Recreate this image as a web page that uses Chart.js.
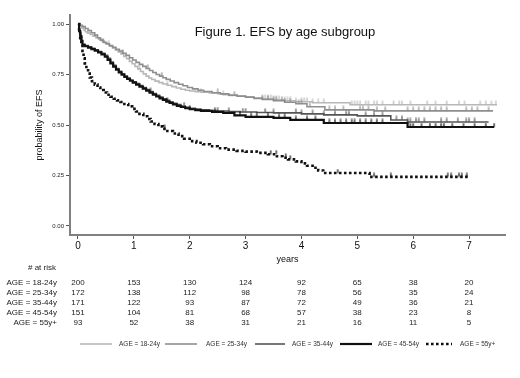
<!DOCTYPE html>
<html><head><meta charset="utf-8">
<script src="https://cdn.jsdelivr.net/npm/chart.js@4.4.1/dist/chart.umd.min.js"></script>
<style>html,body{margin:0;padding:0;background:#fff}#wrap{width:520px;height:378px}</style>
</head><body><div id="wrap"><canvas id="c" width="520" height="378"></canvas></div>
<script>
// ---- data ----
const groups = ["AGE = 18-24y","AGE = 25-34y","AGE = 35-44y","AGE = 45-54y","AGE = 55y+"];
const xTickValues = [0,1,2,3,4,5,6,7];
const yTickValues = [0,0.25,0.5,0.75,1];
const riskTimes = [0,1,2,3,4,5,6,7];
const risk18 = [200,153,130,124,92,65,38,20];
const risk25 = [172,138,112,98,78,56,35,24];
const risk35 = [171,122,93,87,72,49,36,21];
const risk45 = [151,104,81,68,57,38,23,8];
const risk55 = [93,52,38,31,21,16,11,5];

// step curves: event times and survival after each step
const t18 = [0,0.03,0.06,0.1,0.13,0.17,0.22,0.27,0.32,0.37,0.42,0.47,0.52,0.57,0.62,0.67,0.72,0.77,0.82,0.87,0.92,0.97,1.02,1.07,1.12,1.17,1.22,1.27,1.32,1.38,1.45,1.52,1.6,1.68,1.76,1.84,1.92,2.0,2.1,2.2,2.35,2.5,2.6,2.7,2.85,3.0,3.15,3.3,3.5,3.7,3.9,4.2,4.87,7.5];
const s18 = [1,0.99,0.98,0.97,0.962,0.955,0.948,0.94,0.932,0.925,0.917,0.908,0.9,0.89,0.88,0.87,0.862,0.852,0.84,0.828,0.815,0.803,0.79,0.778,0.765,0.753,0.742,0.733,0.725,0.717,0.71,0.703,0.697,0.69,0.683,0.677,0.672,0.668,0.665,0.662,0.659,0.655,0.65,0.646,0.642,0.638,0.634,0.63,0.625,0.62,0.615,0.61,0.60,0.60];
const t25 = [0,0.04,0.08,0.13,0.18,0.24,0.3,0.35,0.4,0.45,0.5,0.56,0.62,0.68,0.74,0.8,0.86,0.92,0.98,1.04,1.1,1.16,1.22,1.28,1.34,1.4,1.46,1.52,1.58,1.65,1.72,1.8,1.88,1.96,2.05,2.15,2.25,2.4,2.55,2.7,2.85,3.0,3.15,3.3,3.5,3.7,3.9,4.1,4.42,5.3,7.43];
const s25 = [1,0.994,0.987,0.978,0.968,0.957,0.945,0.932,0.92,0.91,0.902,0.893,0.885,0.875,0.866,0.855,0.845,0.833,0.822,0.81,0.8,0.79,0.78,0.77,0.76,0.75,0.742,0.734,0.726,0.718,0.71,0.702,0.694,0.686,0.679,0.672,0.666,0.66,0.654,0.648,0.643,0.638,0.632,0.626,0.62,0.613,0.605,0.59,0.575,0.57,0.57];
const t35 = [0,0.02,0.04,0.06,0.08,0.12,0.18,0.24,0.3,0.36,0.42,0.48,0.53,0.58,0.63,0.68,0.73,0.78,0.83,0.88,0.93,0.98,1.04,1.1,1.16,1.22,1.28,1.34,1.4,1.46,1.52,1.58,1.64,1.7,1.77,1.84,1.92,2.0,2.1,2.2,2.35,2.5,2.7,2.9,3.2,3.5,4.0,4.4,5.0,5.6,5.9,7.35];
const s35 = [1,0.97,0.945,0.92,0.9,0.893,0.887,0.88,0.872,0.864,0.855,0.845,0.83,0.812,0.795,0.78,0.766,0.753,0.742,0.732,0.723,0.714,0.705,0.695,0.685,0.675,0.665,0.656,0.647,0.638,0.63,0.622,0.615,0.608,0.601,0.594,0.588,0.583,0.579,0.575,0.572,0.569,0.566,0.564,0.562,0.56,0.555,0.55,0.545,0.525,0.515,0.515];
const t45 = [0,0.02,0.04,0.06,0.08,0.12,0.18,0.24,0.3,0.36,0.42,0.48,0.53,0.58,0.63,0.68,0.73,0.78,0.83,0.88,0.93,0.98,1.04,1.1,1.16,1.22,1.28,1.34,1.4,1.46,1.52,1.58,1.64,1.7,1.77,1.84,1.92,2.0,2.1,2.2,2.4,2.6,2.8,3.0,3.5,3.8,4.4,5.9,7.45];
const s45 = [1,0.965,0.94,0.915,0.897,0.89,0.883,0.876,0.868,0.86,0.85,0.838,0.822,0.805,0.789,0.774,0.761,0.749,0.738,0.728,0.719,0.71,0.7,0.69,0.68,0.67,0.66,0.65,0.641,0.632,0.624,0.616,0.609,0.602,0.595,0.589,0.583,0.578,0.574,0.57,0.565,0.56,0.548,0.54,0.535,0.525,0.51,0.49,0.49];
const t55 = [0,0.02,0.04,0.06,0.08,0.1,0.12,0.15,0.18,0.21,0.25,0.3,0.35,0.4,0.46,0.52,0.58,0.64,0.7,0.76,0.83,0.9,0.97,1.04,1.1,1.17,1.24,1.3,1.37,1.44,1.52,1.6,1.7,1.8,1.9,2.0,2.12,2.24,2.36,2.5,2.65,2.84,3.0,3.2,3.4,3.56,3.66,3.76,3.9,4.0,4.1,4.2,4.3,4.39,5.22,6.98];
const s55 = [1,0.965,0.93,0.895,0.86,0.83,0.805,0.78,0.755,0.735,0.717,0.7,0.686,0.673,0.661,0.65,0.64,0.63,0.622,0.614,0.604,0.592,0.58,0.567,0.555,0.543,0.53,0.517,0.505,0.493,0.481,0.47,0.458,0.445,0.432,0.42,0.412,0.405,0.395,0.385,0.378,0.372,0.368,0.362,0.355,0.345,0.338,0.33,0.32,0.31,0.298,0.288,0.275,0.262,0.243,0.243];

// censoring times
const c18 = [0.2,0.55,1.1,1.6,2.2,2.6,3.3,3.35,3.4,3.45,3.5,3.55,3.6,3.7,3.75,3.8,3.9,4.0,4.05,4.1,4.2,4.3,4.4,4.9,4.95,5.0,5.05,5.15,5.2,5.3,5.35,5.45,5.65,5.75,5.8,5.95,6.25,6.4,6.6,6.82,6.92,7.2,7.3,7.4,7.48];
const c25 = [0.45,0.8,1.25,1.5,2.5,2.8,3.3,3.4,3.5,3.55,3.65,3.7,3.8,3.95,4.0,4.15,4.5,4.6,4.75,5.05,5.1,5.2,5.35,5.5,5.9,6.0,6.1,6.2,6.3,6.4,6.5,6.6,6.95,7.05,7.15,7.35];
const c35 = [1.3,1.9,2.5,2.7,2.95,3.0,3.35,3.5,3.9,4.0,4.2,4.4,4.6,4.8,4.85,5.15,5.3,5.45,5.7,5.8,5.9,5.95,6.05,6.1,6.2,6.5,6.6,6.8,6.95,7.0,7.1];
const c45 = [1.6,2.0,2.45,2.9,3.1,3.2,3.4,3.6,3.7,3.9,4.1,4.25,4.5,4.6,4.7,4.8,4.9,4.95,5.05,5.15,5.25,5.35,5.45,5.95,6.0,6.15,6.3,6.4,6.5,6.55,6.7,6.9,7.1,7.3,7.45];
const c55 = [1.55,3.45,3.55,3.72,3.8,4.65,5.3,5.6,6.62,6.68,6.82,6.87,6.96];

const colors = ["#b8b8b8","#8e8e8e","#555555","#111111","#111111"];
const widths = [1.6,1.6,1.6,2.2,2.6];
const dashes = [[],[],[],[],[2.6,2.4]];

// ---- build datasets ----
const tList=[t18,t25,t35,t45,t55], sList=[s18,s25,s35,s45,s55], cList=[c18,c25,c35,c45,c55];
function stepAt(ts, ss, t){ let v=ss[0]; for(let i=0;i<ts.length;i++){ if(ts[i]<=t) v=ss[i]; } return v; }
function tickImg(col){ const cv=document.createElement('canvas'); cv.width=4; cv.height=9; const g=cv.getContext('2d'); g.strokeStyle=col; g.lineWidth=1.2; g.beginPath(); g.moveTo(2,0.5); g.lineTo(2,4.5); g.stroke(); return cv; }
const datasets=[];
for(let k=0;k<5;k++){
  datasets.push({type:'line',label:groups[k],data:tList[k].map((t,i)=>({x:t,y:sList[k][i]})),stepped:true,borderColor:colors[k],borderWidth:widths[k],borderDash:dashes[k],pointRadius:0,fill:false,order:5-k});
}
for(let k=0;k<5;k++){
  const img=tickImg(colors[k]);
  datasets.push({type:'scatter',label:'c'+k,data:cList[k].map(t=>({x:t,y:stepAt(tList[k],sList[k],t)})),pointStyle:img,pointRadius:3,showLine:false,order:5-k});
}

const FONT='"Liberation Sans", Arial, sans-serif';
const extras={id:'extras',afterDraw(chart){
  const ctx=chart.ctx, xs=chart.scales.x;
  ctx.save();
  ctx.fillStyle='#111'; ctx.font='13px '+FONT; ctx.textAlign='center'; ctx.textBaseline='middle';
  ctx.fillText('Figure 1. EFS by age subgroup',285,32);
  ctx.font='8px '+FONT; ctx.fillStyle='#222';
  ctx.fillText('# at risk',42,268);
  const rows=[risk18,risk25,risk35,risk45,risk55];
  for(let r=0;r<5;r++){
    const y=283+r*10;
    ctx.textAlign='right'; ctx.fillText(groups[r],57,y);
    ctx.textAlign='center';
    for(let i=0;i<riskTimes.length;i++) ctx.fillText(String(rows[r][i]),xs.getPixelForValue(riskTimes[i]),y);
  }
  // legend
  const lx=[80,165,255,340,426], tx=[119,206,292,378,460], len=[32,32,30,32,26];
  const ly=344;
  ctx.font='6.5px '+FONT; ctx.textAlign='left'; ctx.fillStyle='#333';
  for(let k=0;k<5;k++){
    ctx.beginPath(); ctx.strokeStyle=colors[k]; ctx.lineWidth=widths[k]; ctx.setLineDash(dashes[k]);
    ctx.moveTo(lx[k],ly); ctx.lineTo(lx[k]+len[k],ly); ctx.stroke(); ctx.setLineDash([]);
    ctx.fillText(groups[k],tx[k],ly);
  }
  ctx.restore();
}};

new Chart(document.getElementById('c'),{
  data:{datasets},
  options:{
    responsive:false,animation:false,
    layout:{padding:{left:0,top:15,right:15,bottom:113}},
    plugins:{legend:{display:false},tooltip:{enabled:false},title:{display:false}},
    scales:{
      x:{type:'linear',min:-0.143,max:7.644,
        afterBuildTicks:s=>{s.ticks=xTickValues.map(v=>({value:v}));},
        afterFit:s=>{s.height=30;},
        grid:{display:true,drawOnChartArea:false,drawTicks:true,tickLength:4,color:'#555',lineWidth:1},
        border:{display:true,color:'#808080',width:2},
        ticks:{font:{family:FONT,size:10},color:'#111',padding:1,callback:v=>String(v),maxRotation:0},
        title:{display:true,text:'years',font:{family:FONT,size:9},color:'#111',padding:{top:-2,bottom:0}}
      },
      y:{type:'linear',min:-0.0446,max:1.0446,
        afterBuildTicks:s=>{s.ticks=yTickValues.map(v=>({value:v}));},
        afterFit:s=>{s.width=70;},
        grid:{display:true,drawOnChartArea:false,drawTicks:true,tickLength:4,color:'#555',lineWidth:1},
        border:{display:true,color:'#808080',width:2},
        ticks:{font:{family:FONT,size:6},color:'#222',padding:2,callback:v=>v.toFixed(2)},
        title:{display:true,text:'probability of EFS',font:{family:FONT,size:9},color:'#111',padding:{top:34,bottom:0}}
      }
    }
  },
  plugins:[extras]
});
</script></body></html>
